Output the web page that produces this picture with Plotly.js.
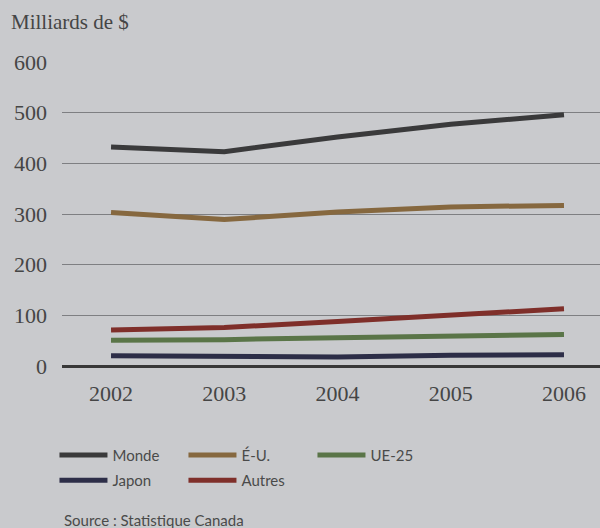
<!DOCTYPE html>
<html><head><meta charset="utf-8">
<script src="https://cdn.plot.ly/plotly-3.0.1.min.js"></script>
<style>html,body{margin:0;padding:0;background:#c9cacd;}</style>
</head><body>
<div id="chart" style="width:600px;height:528px;"></div>
<script>
const years = [2002, 2003, 2004, 2005, 2006];
const monde = [432, 423, 452, 477, 496];
const eu = [303, 289, 304, 314, 317];
const ue25 = [51, 52, 56, 58, 62];
const japon = [20, 18, 18, 21, 22];
const autres = [71, 76, 88, 100, 113];
const yTicks = [0, 100, 200, 300, 400, 500, 600];

const seriesNames = ['Monde', 'É-U.', 'UE-25', 'Japon', 'Autres'];
const seriesData = [monde, eu, ue25, japon, autres];
const colors = ['#3a3a3b', '#86683f', '#5a7548', '#2d2e48', '#7f2f2a'];
const legendOf = ['legend', 'legend', 'legend', 'legend2', 'legend2'];

const traces = seriesNames.map((n, i) => ({
  x: years, y: seriesData[i], name: n, type: 'scatter', mode: 'lines',
  line: {color: colors[i], width: 5},
  legend: legendOf[i], showlegend: true, hoverinfo: 'skip'
}));

const serif = 'Liberation Serif, DejaVu Serif, serif';
const sans = 'Lato, Open Sans, sans-serif';

const legendBase = {
  orientation: 'h', xanchor: 'left', yanchor: 'top',
  bgcolor: 'rgba(0,0,0,0)', font: {family: sans, size: 15, color: '#4a4a4a'},
  entrywidth: 66, entrywidthmode: 'pixels', itemwidth: 48, traceorder: 'normal'
};

const layout = {
  width: 600, height: 528,
  margin: {l: 62, r: 0, t: 62, b: 162},
  paper_bgcolor: '#c9cacd', plot_bgcolor: '#c9cacd',
  showlegend: true,
  xaxis: {
    range: [2001.567, 2006.318], tickvals: years, ticktext: years.map(String),
    showgrid: false, zeroline: false, showline: false, ticks: '',
    ticklabelstandoff: 12,
    tickfont: {family: serif, size: 22, color: '#454545'}
  },
  yaxis: {
    range: [0, 600], tickvals: yTicks, ticks: '',
    showgrid: true, gridcolor: '#7e7f82', gridwidth: 1,
    zeroline: true, zerolinecolor: '#383838', zerolinewidth: 3,
    showline: false, ticklabelstandoff: 14,
    tickfont: {family: serif, size: 22, color: '#454545'}
  },
  legend: Object.assign({}, legendBase, {x: -0.014, y: -0.239}),
  legend2: Object.assign({}, legendBase, {x: -0.014, y: -0.322}),
  annotations: [
    {text: 'Milliards de $', xref: 'paper', yref: 'paper', x: -0.098, y: 1.132,
     xanchor: 'left', yanchor: 'middle', showarrow: false,
     font: {family: serif, size: 21, color: '#454545'}},
    {text: 'Source : Statistique Canada', xref: 'paper', yref: 'paper', x: 0, y: -0.507,
     xanchor: 'left', yanchor: 'middle', showarrow: false,
     font: {family: sans, size: 15, color: '#4a4a4a'}}
  ]
};

Plotly.newPlot('chart', traces, layout, {staticPlot: true, displayModeBar: false});
</script>
</body></html>
